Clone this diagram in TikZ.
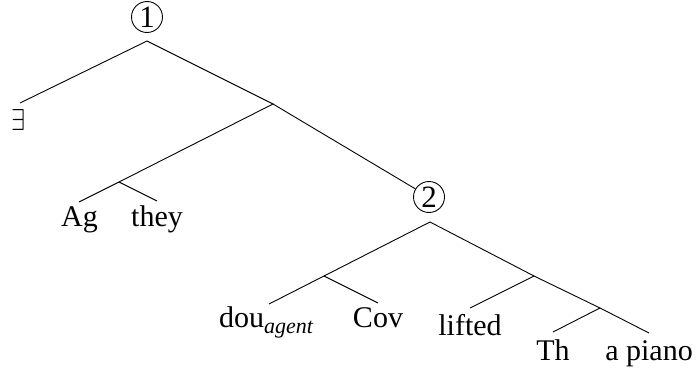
\documentclass[tikz,border=0pt]{standalone}
\usepackage{graphicx}
\usepackage{fontspec}
\setmainfont{Liberation Serif}
\begin{document}
\begin{tikzpicture}[x=1pt,y=-1pt,
  lbl/.style={inner sep=0pt,anchor=base,font=\fontsize{30}{34}\selectfont},
  circ/.style={circle,draw,line width=0.9pt,minimum size=31pt,inner sep=0pt,font=\fontsize{31}{34}\selectfont},
  edge/.style={line width=0.9pt}]
\useasboundingbox (0,0) rectangle (697,372);
% circled markers
\node[circ] (c1) at (147,17) {1};
\node[circ] (c2) at (429,197) {2};
% junctions and branch ends
\coordinate (r1) at (147,41);
\coordinate (e1) at (20,103);
\coordinate (j1) at (273,104);
\coordinate (j2) at (119,182);
\coordinate (a1) at (79,202);
\coordinate (t1) at (157,201);
\coordinate (r2) at (430,222);
\coordinate (j3) at (324,276);
\coordinate (d1) at (269,304);
\coordinate (v1) at (378,303);
\coordinate (j4) at (534,276);
\coordinate (l1) at (470,308);
\coordinate (j5) at (600,308);
\coordinate (th1) at (553,332);
\coordinate (p1) at (649,333);
% labels
\node[lbl] (ex) at (19,130) {\resizebox{14pt}{21pt}{$\exists$}};
\node[lbl] (ag) at (79.5,226) {Ag};
\node[lbl] (they) at (157,226) {they};
\node[lbl] (dou) at (266,327) {dou\raisebox{-6pt}{\fontsize{22}{24}\selectfont\itshape agent}};
\node[lbl] (cov) at (378,327) {Cov};
\node[lbl] (lifted) at (470,335) {lifted};
\node[lbl] (th) at (553,360) {Th};
\node[lbl] (piano) at (649,360) {a piano};
% edges
\draw[edge] (e1) -- (r1) -- (j1) -- (j2) -- (a1);
\draw[edge] (j2) -- (t1);
\draw[edge] (j1) -- (c2);
\draw[edge] (d1) -- (j3) -- (r2) -- (j4) -- (j5) -- (p1);
\draw[edge] (j3) -- (v1);
\draw[edge] (j4) -- (l1);
\draw[edge] (j5) -- (th1);
\end{tikzpicture}
\end{document}
